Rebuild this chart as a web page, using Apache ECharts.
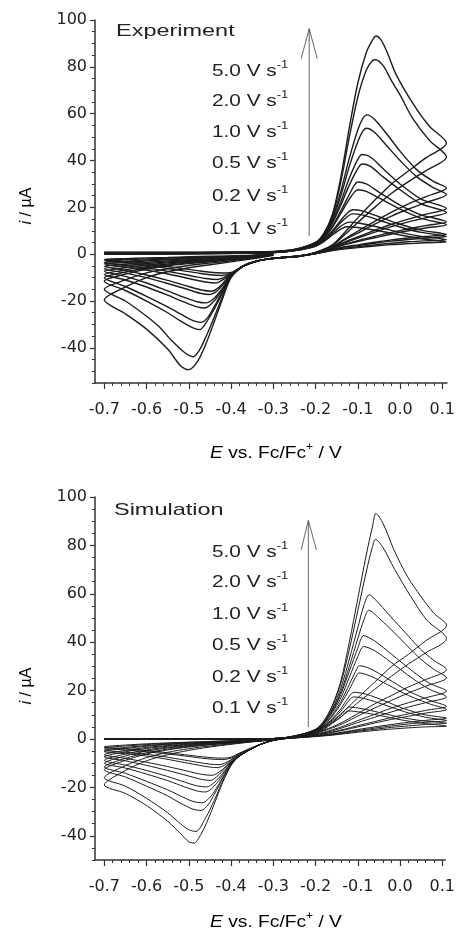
<!DOCTYPE html>
<html>
<head>
<meta charset="utf-8">
<script src="https://cdn.jsdelivr.net/npm/echarts@6/dist/echarts.min.js"></script>
<style>html,body{margin:0;padding:0;background:#fff}#c{width:458px;height:928px}</style>
</head>
<body>
<div id="c"></div>
<script>
// ---------- tick values ----------
const xMajor = [-0.7,-0.6,-0.5,-0.4,-0.3,-0.2,-0.1,0,0.1];
const xMinor = [-0.68,-0.66,-0.64,-0.62,-0.58,-0.56,-0.54,-0.52,-0.48,-0.46,-0.44,-0.42,-0.38,-0.36,-0.34,-0.32,-0.28,-0.26,-0.24,-0.22,-0.18,-0.16,-0.14,-0.12,-0.08,-0.06,-0.04,-0.02,0.02,0.04,0.06,0.08];
const yMajor = [-40,-20,0,20,40,60,80,100];
const yMinorTop = [-55,-50,-45,-35,-30,-25,-15,-10,-5,5,10,15,25,30,35,45,50,55,65,70,75,85,90,95];
const yMinorBot = [-50,-45,-35,-30,-25,-15,-10,-5,5,10,15,25,30,35,45,50,55,65,70,75,85,90,95];
const scanRates = ['5.0 V s','2.0 V s','1.0 V s','0.5 V s','0.2 V s','0.1 V s'];

// ---------- Experiment curves (E / V, i / uA) ----------
const expC1 = [[-0.70,0.8],[-0.55,0.8],[-0.40,0.9],[-0.30,1.2],[-0.25,2],[-0.20,5],[-0.18,9],[-0.16,17],[-0.14,33],[-0.12,54],[-0.10,73],[-0.08,86],[-0.065,91.5],[-0.057,93.2],[-0.045,91.5],[-0.03,86],[-0.01,77],[0.03,64.5],[0.07,54.5],[0.11,47.5],[0.06,41],[0.02,35.5],[-0.02,30],[-0.06,23],[-0.10,15.5],[-0.13,9.5],[-0.16,4],[-0.20,0.8],[-0.24,-1],[-0.28,-1.5],[-0.31,-2],[-0.34,-3],[-0.37,-5],[-0.40,-10],[-0.42,-19],[-0.44,-29],[-0.46,-38.5],[-0.48,-46],[-0.50,-49.3],[-0.52,-47.5],[-0.55,-40.5],[-0.60,-32],[-0.65,-25.5],[-0.70,-19.5],[-0.65,-14],[-0.60,-10],[-0.55,-7.5],[-0.50,-5.8],[-0.45,-4.5],[-0.40,-3.3],[-0.35,-2],[-0.30,-0.5]];
const expC2 = [[-0.70,0.7],[-0.55,0.7],[-0.40,0.8],[-0.30,1.1],[-0.25,2],[-0.20,5],[-0.18,8.8],[-0.16,16.5],[-0.14,31],[-0.12,50],[-0.10,67],[-0.08,78.5],[-0.066,82.5],[-0.058,83],[-0.04,80.5],[-0.02,74],[0.0,68],[0.03,58],[0.07,48.5],[0.11,41.5],[0.06,35.5],[0.02,31],[-0.02,26],[-0.06,20],[-0.10,13.5],[-0.13,8.5],[-0.16,3.8],[-0.20,0.7],[-0.24,-1],[-0.28,-1.5],[-0.31,-2],[-0.34,-3],[-0.37,-5],[-0.40,-9.8],[-0.42,-18],[-0.44,-27],[-0.46,-35.5],[-0.475,-41],[-0.49,-43.8],[-0.51,-42],[-0.54,-37],[-0.57,-31],[-0.60,-26.5],[-0.65,-20],[-0.70,-15],[-0.65,-11],[-0.60,-8],[-0.55,-6.2],[-0.50,-4.8],[-0.45,-3.8],[-0.40,-2.8],[-0.35,-1.7],[-0.30,-0.4]];
const expC3 = [[-0.70,0.6],[-0.55,0.6],[-0.40,0.8],[-0.30,1.1],[-0.25,1.9],[-0.20,4.8],[-0.18,8.5],[-0.16,15.5],[-0.14,27],[-0.12,41],[-0.10,53],[-0.088,58],[-0.078,59.5],[-0.06,57.5],[-0.03,51],[0.0,44],[0.04,36],[0.08,31],[0.11,28.3],[0.06,24.5],[0.02,21.5],[-0.02,18],[-0.06,14],[-0.10,9.8],[-0.13,6.6],[-0.16,3.3],[-0.20,0.6],[-0.24,-0.9],[-0.28,-1.5],[-0.31,-2],[-0.34,-3],[-0.37,-5],[-0.40,-9.5],[-0.42,-16.5],[-0.44,-23.5],[-0.46,-29.5],[-0.474,-32.2],[-0.49,-31.5],[-0.52,-28.5],[-0.55,-25],[-0.60,-20],[-0.65,-15.5],[-0.70,-11.5],[-0.65,-8.5],[-0.60,-6.5],[-0.55,-5],[-0.50,-4],[-0.45,-3.2],[-0.40,-2.4],[-0.35,-1.5],[-0.30,-0.3]];
const expC4 = [[-0.70,0.5],[-0.55,0.6],[-0.40,0.7],[-0.30,1.0],[-0.25,1.9],[-0.20,4.7],[-0.18,8.2],[-0.16,15],[-0.14,25],[-0.12,37.5],[-0.10,48],[-0.088,52.5],[-0.08,53.8],[-0.06,52],[-0.03,46],[0.0,40],[0.04,33],[0.08,28.3],[0.11,25.5],[0.06,22],[0.02,19.3],[-0.02,16.3],[-0.06,12.8],[-0.10,9],[-0.13,6.2],[-0.16,3.2],[-0.20,0.6],[-0.24,-0.9],[-0.28,-1.5],[-0.31,-2],[-0.34,-3],[-0.37,-5],[-0.40,-9.4],[-0.42,-16],[-0.44,-22.5],[-0.455,-27],[-0.47,-29.1],[-0.49,-28.4],[-0.52,-25.5],[-0.55,-22.5],[-0.60,-18],[-0.65,-13.8],[-0.70,-10.1],[-0.65,-7.6],[-0.60,-5.9],[-0.55,-4.6],[-0.50,-3.7],[-0.45,-3],[-0.40,-2.2],[-0.35,-1.4],[-0.30,-0.3]];
const expC5 = [[-0.70,0.5],[-0.55,0.5],[-0.40,0.7],[-0.30,1.0],[-0.25,1.8],[-0.20,4.5],[-0.18,7.8],[-0.16,14],[-0.14,22.5],[-0.12,32.5],[-0.10,40.5],[-0.09,42.6],[-0.07,41.5],[-0.04,36.5],[0.0,30],[0.05,23.5],[0.11,19.5],[0.06,17],[0.02,15],[-0.02,12.8],[-0.06,10.2],[-0.10,7.4],[-0.13,5.3],[-0.16,2.9],[-0.20,0.5],[-0.24,-0.9],[-0.28,-1.5],[-0.31,-2],[-0.34,-3],[-0.37,-5],[-0.40,-9.2],[-0.42,-15],[-0.44,-20],[-0.462,-23],[-0.48,-22.5],[-0.51,-20.5],[-0.55,-17.5],[-0.60,-14],[-0.65,-11],[-0.70,-8.7],[-0.65,-6.7],[-0.60,-5.3],[-0.55,-4.2],[-0.50,-3.4],[-0.45,-2.7],[-0.40,-2],[-0.35,-1.3],[-0.30,-0.2]];
const expC6 = [[-0.70,0.4],[-0.55,0.5],[-0.40,0.6],[-0.30,0.9],[-0.25,1.8],[-0.20,4.4],[-0.18,7.6],[-0.16,13.2],[-0.14,21],[-0.12,29.5],[-0.10,36.5],[-0.09,38.5],[-0.07,37.5],[-0.04,33],[0.0,27.5],[0.05,21.5],[0.11,17.8],[0.06,15.5],[0.02,13.8],[-0.02,11.8],[-0.06,9.4],[-0.10,6.9],[-0.13,5],[-0.16,2.8],[-0.20,0.5],[-0.24,-0.9],[-0.28,-1.5],[-0.31,-2],[-0.34,-3],[-0.37,-5],[-0.40,-9],[-0.42,-14.5],[-0.44,-18.8],[-0.46,-20.8],[-0.48,-20.3],[-0.51,-18.5],[-0.55,-15.7],[-0.60,-12.3],[-0.65,-9.5],[-0.70,-7.3],[-0.65,-5.8],[-0.60,-4.6],[-0.55,-3.7],[-0.50,-3],[-0.45,-2.4],[-0.40,-1.8],[-0.35,-1.1],[-0.30,-0.2]];
const expC7 = [[-0.70,0.3],[-0.55,0.4],[-0.40,0.6],[-0.30,0.9],[-0.25,1.7],[-0.20,4.2],[-0.18,7.2],[-0.16,12],[-0.14,18.5],[-0.12,25.5],[-0.108,29.5],[-0.10,30.8],[-0.08,30],[-0.05,26.5],[0.0,21],[0.05,16.8],[0.11,13.8],[0.06,12.2],[0.02,10.8],[-0.02,9.3],[-0.06,7.6],[-0.10,5.8],[-0.13,4.3],[-0.16,2.5],[-0.20,0.4],[-0.24,-0.8],[-0.28,-1.4],[-0.31,-2],[-0.34,-3],[-0.37,-5],[-0.40,-8.8],[-0.42,-13.2],[-0.435,-16],[-0.45,-17.2],[-0.47,-16.8],[-0.50,-15.2],[-0.55,-12.5],[-0.60,-10],[-0.65,-8],[-0.70,-6.2],[-0.65,-5],[-0.60,-4],[-0.55,-3.3],[-0.50,-2.7],[-0.45,-2.1],[-0.40,-1.6],[-0.35,-1],[-0.30,-0.1]];
const expC8 = [[-0.70,0.3],[-0.55,0.3],[-0.40,0.5],[-0.30,0.8],[-0.25,1.7],[-0.20,4.1],[-0.18,7],[-0.16,11.5],[-0.14,17.5],[-0.12,23.5],[-0.108,26.5],[-0.10,27.5],[-0.08,26.8],[-0.05,24],[0.0,19.2],[0.05,15.3],[0.11,12.6],[0.06,11.2],[0.02,10],[-0.02,8.6],[-0.06,7],[-0.10,5.4],[-0.13,4.1],[-0.16,2.4],[-0.20,0.4],[-0.24,-0.8],[-0.28,-1.4],[-0.31,-2],[-0.34,-3],[-0.37,-5],[-0.40,-8.6],[-0.42,-12.6],[-0.435,-15],[-0.447,-15.8],[-0.47,-15.3],[-0.50,-13.8],[-0.55,-11.2],[-0.60,-8.9],[-0.65,-6.9],[-0.70,-5.2],[-0.65,-4.3],[-0.60,-3.5],[-0.55,-2.9],[-0.50,-2.4],[-0.45,-1.9],[-0.40,-1.4],[-0.35,-0.9],[-0.30,-0.1]];
const expC9 = [[-0.70,0.2],[-0.55,0.3],[-0.40,0.5],[-0.30,0.8],[-0.25,1.6],[-0.20,3.8],[-0.18,6.3],[-0.16,10],[-0.14,14.5],[-0.125,17.5],[-0.112,19],[-0.09,18.5],[-0.05,16],[0.0,12.8],[0.05,10.3],[0.11,8.4],[0.06,7.6],[0.02,6.9],[-0.02,6.1],[-0.06,5.1],[-0.10,4],[-0.13,3.2],[-0.16,2],[-0.20,0.3],[-0.24,-0.8],[-0.28,-1.4],[-0.31,-2],[-0.34,-3],[-0.37,-5],[-0.40,-8.4],[-0.42,-11],[-0.437,-12.3],[-0.46,-11.9],[-0.49,-10.8],[-0.53,-9.2],[-0.58,-7.4],[-0.64,-5.7],[-0.70,-4.2],[-0.65,-3.5],[-0.60,-2.9],[-0.55,-2.4],[-0.50,-2],[-0.45,-1.6],[-0.40,-1.2],[-0.35,-0.7],[-0.30,0]];
const expC10 = [[-0.70,0.2],[-0.55,0.2],[-0.40,0.4],[-0.30,0.7],[-0.25,1.6],[-0.20,3.7],[-0.18,6.1],[-0.16,9.6],[-0.14,13.5],[-0.125,16],[-0.113,17.2],[-0.09,16.8],[-0.05,14.6],[0.0,11.6],[0.05,9.3],[0.11,7.6],[0.06,6.9],[0.02,6.3],[-0.02,5.6],[-0.06,4.7],[-0.10,3.7],[-0.13,3],[-0.16,1.9],[-0.20,0.3],[-0.24,-0.8],[-0.28,-1.4],[-0.31,-2],[-0.34,-3],[-0.37,-5],[-0.40,-8.3],[-0.42,-10.2],[-0.433,-10.8],[-0.46,-10.4],[-0.49,-9.4],[-0.53,-8],[-0.58,-6.4],[-0.64,-4.9],[-0.70,-3.5],[-0.65,-3],[-0.60,-2.5],[-0.55,-2.1],[-0.50,-1.7],[-0.45,-1.4],[-0.40,-1],[-0.35,-0.6],[-0.30,0]];
const expC11 = [[-0.70,0.1],[-0.55,0.2],[-0.40,0.4],[-0.30,0.7],[-0.25,1.5],[-0.20,3.5],[-0.18,5.7],[-0.16,8.8],[-0.14,12],[-0.12,13.7],[-0.095,13.2],[-0.05,11.5],[0.0,9.3],[0.05,7.6],[0.11,6.2],[0.06,5.7],[0.02,5.3],[-0.02,4.7],[-0.06,4],[-0.10,3.2],[-0.13,2.6],[-0.16,1.7],[-0.20,0.3],[-0.24,-0.8],[-0.28,-1.4],[-0.31,-2],[-0.34,-3],[-0.37,-5],[-0.40,-8.2],[-0.423,-9.1],[-0.45,-8.8],[-0.48,-8],[-0.52,-6.9],[-0.57,-5.5],[-0.63,-4],[-0.70,-2.7],[-0.65,-2.3],[-0.60,-2],[-0.55,-1.7],[-0.50,-1.4],[-0.45,-1.1],[-0.40,-0.8],[-0.35,-0.5],[-0.30,0]];
const expC12 = [[-0.70,0.0],[-0.55,0.1],[-0.40,0.3],[-0.30,0.6],[-0.25,1.5],[-0.20,3.4],[-0.18,5.4],[-0.16,8.2],[-0.14,10.7],[-0.125,11.7],[-0.10,11.4],[-0.05,10],[0.0,8.2],[0.05,6.6],[0.11,5.2],[0.06,4.9],[0.02,4.5],[-0.02,4.1],[-0.06,3.5],[-0.10,2.8],[-0.13,2.3],[-0.16,1.5],[-0.20,0.2],[-0.24,-0.8],[-0.28,-1.4],[-0.31,-2],[-0.34,-3],[-0.37,-4.8],[-0.40,-7.8],[-0.42,-8],[-0.45,-7.7],[-0.48,-7],[-0.52,-6],[-0.57,-4.7],[-0.63,-3.4],[-0.70,-2.2],[-0.65,-1.9],[-0.60,-1.6],[-0.55,-1.4],[-0.50,-1.1],[-0.45,-0.9],[-0.40,-0.7],[-0.35,-0.4],[-0.30,0]];

// ---------- Simulation curves ----------
const simC1 = [[-0.70,0],[-0.55,0],[-0.40,0],[-0.30,0.2],[-0.25,1.2],[-0.20,4],[-0.18,7.5],[-0.16,14],[-0.14,24],[-0.12,40],[-0.10,58],[-0.08,76],[-0.065,88],[-0.057,93.2],[-0.04,89],[-0.014,78],[0.018,67],[0.049,59],[0.08,52],[0.11,47],[0.06,40.5],[0.02,35],[-0.02,30],[-0.06,23.5],[-0.10,17],[-0.13,12],[-0.16,7.5],[-0.20,3.5],[-0.24,1.7],[-0.28,0.3],[-0.31,-1],[-0.34,-3],[-0.38,-7],[-0.40,-11],[-0.42,-18],[-0.44,-27],[-0.46,-35.5],[-0.475,-40.5],[-0.487,-43],[-0.50,-42.5],[-0.52,-39],[-0.55,-34],[-0.60,-27.5],[-0.65,-22.5],[-0.70,-19],[-0.65,-13],[-0.60,-9],[-0.55,-6.5],[-0.50,-4.7],[-0.45,-3.3],[-0.40,-2.2],[-0.35,-1.2],[-0.30,-0.4]];
const simC2 = [[-0.70,0],[-0.55,0],[-0.40,0],[-0.30,0.2],[-0.25,1.2],[-0.20,4],[-0.18,7.4],[-0.16,13.5],[-0.14,23],[-0.12,37],[-0.10,53],[-0.08,69],[-0.066,79],[-0.058,82.5],[-0.04,79],[-0.014,70.5],[0.025,59],[0.064,49],[0.11,41.5],[0.06,35.5],[0.02,31],[-0.02,26],[-0.06,20.5],[-0.10,15],[-0.13,10.5],[-0.16,6.8],[-0.20,3.3],[-0.24,1.6],[-0.28,0.3],[-0.31,-1],[-0.34,-3],[-0.38,-7],[-0.40,-10.8],[-0.42,-17.5],[-0.44,-25.5],[-0.46,-32.5],[-0.483,-38.2],[-0.50,-37.5],[-0.52,-35],[-0.55,-30.5],[-0.60,-24.5],[-0.65,-19.5],[-0.70,-16],[-0.65,-11],[-0.60,-7.7],[-0.55,-5.5],[-0.50,-4],[-0.45,-2.9],[-0.40,-2],[-0.35,-1.1],[-0.30,-0.4]];
const simC3 = [[-0.70,0],[-0.55,0],[-0.40,0],[-0.30,0.2],[-0.25,1.1],[-0.20,3.8],[-0.18,7],[-0.16,12.5],[-0.14,21],[-0.12,33],[-0.10,46],[-0.085,55.5],[-0.073,59.6],[-0.05,56],[-0.014,49],[0.02,42.5],[0.049,37],[0.08,32.5],[0.11,28.7],[0.06,24.5],[0.02,21.5],[-0.02,18],[-0.06,14.5],[-0.10,10.5],[-0.13,7.5],[-0.16,5],[-0.20,2.6],[-0.24,1.3],[-0.28,0.2],[-0.31,-1],[-0.34,-3],[-0.38,-7],[-0.40,-10.5],[-0.42,-16.5],[-0.44,-23],[-0.455,-27.3],[-0.471,-29.5],[-0.49,-29],[-0.52,-26.5],[-0.55,-23.5],[-0.60,-19.5],[-0.65,-15.7],[-0.70,-12.7],[-0.65,-8.8],[-0.60,-6.2],[-0.55,-4.5],[-0.50,-3.3],[-0.45,-2.4],[-0.40,-1.7],[-0.35,-1],[-0.30,-0.3]];
const simC4 = [[-0.70,0],[-0.55,0],[-0.40,0],[-0.30,0.2],[-0.25,1.1],[-0.20,3.7],[-0.18,6.8],[-0.16,12],[-0.14,19.5],[-0.12,30],[-0.10,41.5],[-0.085,49.5],[-0.074,53.2],[-0.05,50],[-0.014,44],[0.02,38],[0.049,33],[0.08,28.8],[0.11,25.3],[0.06,21.8],[0.02,19],[-0.02,16],[-0.06,12.8],[-0.10,9.5],[-0.13,6.8],[-0.16,4.6],[-0.20,2.4],[-0.24,1.2],[-0.28,0.2],[-0.31,-1],[-0.34,-3],[-0.38,-7],[-0.40,-10.3],[-0.42,-16],[-0.44,-21.8],[-0.455,-25],[-0.469,-26.4],[-0.49,-25.8],[-0.52,-23.5],[-0.55,-21],[-0.60,-17.5],[-0.65,-14.2],[-0.70,-11.6],[-0.65,-8],[-0.60,-5.7],[-0.55,-4.2],[-0.50,-3.1],[-0.45,-2.3],[-0.40,-1.6],[-0.35,-0.9],[-0.30,-0.3]];
const simC5 = [[-0.70,0],[-0.55,0],[-0.40,0],[-0.30,0.2],[-0.25,1],[-0.20,3.5],[-0.18,6.5],[-0.16,11.5],[-0.14,18.5],[-0.12,28],[-0.10,37.5],[-0.086,42.7],[-0.06,40.5],[-0.02,35],[0.03,28],[0.07,23],[0.11,19.8],[0.06,17],[0.02,15],[-0.02,12.8],[-0.06,10.2],[-0.10,7.6],[-0.13,5.6],[-0.16,3.8],[-0.20,2],[-0.24,1],[-0.28,0.1],[-0.31,-1],[-0.34,-3],[-0.38,-7],[-0.40,-10],[-0.42,-15],[-0.44,-19.5],[-0.46,-21.9],[-0.48,-21.5],[-0.51,-19.8],[-0.55,-17.2],[-0.60,-14.5],[-0.65,-12],[-0.70,-10],[-0.65,-7],[-0.60,-5],[-0.55,-3.7],[-0.50,-2.8],[-0.45,-2.1],[-0.40,-1.5],[-0.35,-0.9],[-0.30,-0.3]];
const simC6 = [[-0.70,0],[-0.55,0],[-0.40,0],[-0.30,0.2],[-0.25,1],[-0.20,3.4],[-0.18,6.2],[-0.16,11],[-0.14,17],[-0.12,25.5],[-0.10,34],[-0.086,38.2],[-0.06,36.5],[-0.02,31.5],[0.03,25],[0.07,20.5],[0.11,17.4],[0.06,15],[0.02,13.2],[-0.02,11.2],[-0.06,9],[-0.10,6.8],[-0.13,5],[-0.16,3.4],[-0.20,1.8],[-0.24,0.9],[-0.28,0.1],[-0.31,-1],[-0.34,-3],[-0.38,-7],[-0.40,-9.8],[-0.42,-14.3],[-0.44,-18],[-0.458,-19.8],[-0.48,-19.4],[-0.51,-17.8],[-0.55,-15.5],[-0.60,-13],[-0.65,-10.8],[-0.70,-8.8],[-0.65,-6.2],[-0.60,-4.5],[-0.55,-3.4],[-0.50,-2.6],[-0.45,-1.9],[-0.40,-1.4],[-0.35,-0.8],[-0.30,-0.3]];
const simC7 = [[-0.70,0],[-0.55,0],[-0.40,0],[-0.30,0.2],[-0.25,0.9],[-0.20,3.2],[-0.18,5.8],[-0.16,10],[-0.14,15.5],[-0.12,22.5],[-0.105,28],[-0.096,30.3],[-0.07,29],[-0.03,25],[0.02,19.8],[0.07,16],[0.11,13.5],[0.06,11.8],[0.02,10.4],[-0.02,8.9],[-0.06,7.2],[-0.10,5.5],[-0.13,4.1],[-0.16,2.9],[-0.20,1.6],[-0.24,0.8],[-0.28,0.1],[-0.31,-1],[-0.34,-3],[-0.38,-7],[-0.40,-9.5],[-0.42,-13.2],[-0.435,-15.8],[-0.448,-17.1],[-0.47,-16.7],[-0.50,-15.3],[-0.55,-13],[-0.60,-10.9],[-0.65,-9],[-0.70,-7.4],[-0.65,-5.3],[-0.60,-3.9],[-0.55,-3],[-0.50,-2.3],[-0.45,-1.7],[-0.40,-1.2],[-0.35,-0.7],[-0.30,-0.2]];
const simC8 = [[-0.70,0],[-0.55,0],[-0.40,0],[-0.30,0.2],[-0.25,0.9],[-0.20,3.1],[-0.18,5.5],[-0.16,9.5],[-0.14,14.5],[-0.12,20.5],[-0.105,25.5],[-0.097,27.3],[-0.07,26],[-0.03,22.5],[0.02,18],[0.07,14.5],[0.11,12.2],[0.06,10.7],[0.02,9.4],[-0.02,8.1],[-0.06,6.6],[-0.10,5],[-0.13,3.8],[-0.16,2.7],[-0.20,1.5],[-0.24,0.7],[-0.28,0],[-0.31,-1],[-0.34,-3],[-0.38,-7],[-0.40,-9.3],[-0.42,-12.6],[-0.435,-14.4],[-0.444,-15],[-0.47,-14.6],[-0.50,-13.4],[-0.55,-11.4],[-0.60,-9.6],[-0.65,-8],[-0.70,-6.5],[-0.65,-4.7],[-0.60,-3.5],[-0.55,-2.7],[-0.50,-2.1],[-0.45,-1.6],[-0.40,-1.1],[-0.35,-0.7],[-0.30,-0.2]];
const simC9 = [[-0.70,0],[-0.55,0],[-0.40,0],[-0.30,0.2],[-0.25,0.8],[-0.20,2.8],[-0.18,5],[-0.16,8.5],[-0.14,12.5],[-0.125,16.5],[-0.109,19.3],[-0.08,18.5],[-0.04,16],[0.01,12.5],[0.06,10],[0.11,8.6],[0.06,7.7],[0.02,6.9],[-0.02,6],[-0.06,5],[-0.10,3.9],[-0.13,3],[-0.16,2.2],[-0.20,1.3],[-0.24,0.7],[-0.28,0],[-0.31,-1],[-0.34,-3],[-0.38,-6.5],[-0.40,-8.8],[-0.415,-10.8],[-0.432,-11.8],[-0.45,-11.6],[-0.48,-10.7],[-0.52,-9.4],[-0.57,-7.8],[-0.63,-6.4],[-0.70,-5.2],[-0.65,-3.9],[-0.60,-3],[-0.55,-2.3],[-0.50,-1.8],[-0.45,-1.4],[-0.40,-1],[-0.35,-0.6],[-0.30,-0.2]];
const simC10 = [[-0.70,0],[-0.55,0],[-0.40,0],[-0.30,0.2],[-0.25,0.8],[-0.20,2.7],[-0.18,4.8],[-0.16,8],[-0.14,11.5],[-0.125,15],[-0.11,17.4],[-0.08,16.5],[-0.04,14.3],[0.01,11.3],[0.06,9],[0.11,7.6],[0.06,6.9],[0.02,6.2],[-0.02,5.4],[-0.06,4.5],[-0.10,3.5],[-0.13,2.8],[-0.16,2],[-0.20,1.2],[-0.24,0.6],[-0.28,0],[-0.31,-1],[-0.34,-3],[-0.38,-6.3],[-0.40,-8.6],[-0.415,-10],[-0.428,-10.6],[-0.45,-10.4],[-0.48,-9.6],[-0.52,-8.4],[-0.57,-7],[-0.63,-5.8],[-0.70,-4.6],[-0.65,-3.5],[-0.60,-2.7],[-0.55,-2.1],[-0.50,-1.7],[-0.45,-1.3],[-0.40,-0.9],[-0.35,-0.6],[-0.30,-0.2]];
const simC11 = [[-0.70,0],[-0.55,0],[-0.40,0],[-0.30,0.2],[-0.25,0.7],[-0.20,2.5],[-0.18,4.3],[-0.16,7],[-0.14,10],[-0.119,13.2],[-0.09,12.5],[-0.05,11],[0.0,9],[0.05,7.6],[0.11,6.5],[0.06,6],[0.02,5.4],[-0.02,4.8],[-0.06,4],[-0.10,3.2],[-0.13,2.5],[-0.16,1.8],[-0.20,1.1],[-0.24,0.6],[-0.28,0],[-0.31,-1],[-0.34,-2.9],[-0.38,-6],[-0.40,-7.9],[-0.42,-8.5],[-0.44,-8.4],[-0.47,-7.9],[-0.51,-7],[-0.56,-6],[-0.63,-4.8],[-0.70,-3.7],[-0.65,-2.9],[-0.60,-2.3],[-0.55,-1.8],[-0.50,-1.4],[-0.45,-1.1],[-0.40,-0.8],[-0.35,-0.5],[-0.30,-0.2]];
const simC12 = [[-0.70,0],[-0.55,0],[-0.40,0],[-0.30,0.2],[-0.25,0.7],[-0.20,2.4],[-0.18,4],[-0.16,6.5],[-0.14,9],[-0.123,11.6],[-0.09,11],[-0.05,9.8],[0.0,8],[0.05,6.6],[0.11,5.3],[0.06,5],[0.02,4.6],[-0.02,4.1],[-0.06,3.5],[-0.10,2.8],[-0.13,2.2],[-0.16,1.6],[-0.20,1],[-0.24,0.5],[-0.28,0],[-0.31,-1],[-0.34,-2.8],[-0.38,-5.8],[-0.40,-7.5],[-0.417,-7.9],[-0.44,-7.8],[-0.47,-7.3],[-0.51,-6.5],[-0.56,-5.5],[-0.63,-4.3],[-0.70,-3.2],[-0.65,-2.5],[-0.60,-2],[-0.55,-1.6],[-0.50,-1.3],[-0.45,-1],[-0.40,-0.7],[-0.35,-0.5],[-0.30,-0.2]];

// ---------- arrows (data coordinates) ----------
const arrowExp = [[-0.215,7.7],[-0.215,96.3]];
const arrowHeadExp = [[-0.234,83.5],[-0.215,96.3],[-0.196,83.5]];
const arrowSim = [[-0.217,5],[-0.217,90.3]];
const arrowHeadSim = [[-0.234,78.2],[-0.217,90.3],[-0.198,78.2]];

const expCurves = [expC1,expC2,expC3,expC4,expC5,expC6,expC7,expC8,expC9,expC10,expC11,expC12];
const simCurves = [simC1,simC2,simC3,simC4,simC5,simC6,simC7,simC8,simC9,simC10,simC11,simC12];

// ---------- layout ----------
const FONT = '"Liberation Sans", Arial, sans-serif';
const LABEL_FONT = '"DejaVu Sans", sans-serif';
const AX = '#333';
const panels = [
  {top: 20, yMin: -55, yMinor: yMinorTop, xMax: 0.111},
  {top: 497, yMin: -50, yMinor: yMinorBot, xMax: 0.107}
];

const grid = [], xAxis = [], yAxis = [];
panels.forEach((p, i) => {
  grid.push({left: 95, top: p.top, width: 353, height: 363});
  xAxis.push({
    type: 'value', gridIndex: i, min: -0.722, max: p.xMax, position: 'bottom', offset: 0,
    axisLine: {show: true, onZero: false, lineStyle: {color: AX, width: 1.5}},
    axisTick: {show: true, inside: false, length: 6, customValues: xMajor, lineStyle: {color: AX, width: 1.2}},
    axisLabel: {show: true, customValues: xMajor, margin: 19, color: '#222', fontSize: 16, fontFamily: LABEL_FONT,
      formatter: v => v.toFixed(1)},
    splitLine: {show: false}
  });
  xAxis.push({
    type: 'value', gridIndex: i, min: -0.722, max: p.xMax, position: 'bottom', offset: 0,
    axisLine: {show: false, onZero: false}, axisLabel: {show: false}, splitLine: {show: false},
    axisTick: {show: true, length: 3, customValues: xMinor, lineStyle: {color: AX, width: 1}}
  });
  yAxis.push({
    type: 'value', gridIndex: i, min: p.yMin, max: 100, position: 'left', offset: 0,
    axisLine: {show: true, onZero: false, lineStyle: {color: AX, width: 1.5}},
    axisTick: {show: true, length: 5, customValues: yMajor, lineStyle: {color: AX, width: 1.2}},
    axisLabel: {show: true, customValues: yMajor, margin: 8, color: '#222', fontSize: 16, fontFamily: LABEL_FONT},
    splitLine: {show: false}
  });
  yAxis.push({
    type: 'value', gridIndex: i, min: p.yMin, max: 100, position: 'left', offset: 0,
    axisLine: {show: false, onZero: false}, axisLabel: {show: false}, splitLine: {show: false},
    axisTick: {show: true, length: 3, customValues: p.yMinor, lineStyle: {color: AX, width: 1}}
  });
});

const series = [];
function addCurves(curves, gi, color, width) {
  curves.forEach(d => series.push({
    type: 'line', xAxisIndex: gi * 2, yAxisIndex: gi * 2, data: d,
    showSymbol: false, smooth: 0.3, silent: true,
    lineStyle: {color: color, width: width}
  }));
}
addCurves(expCurves, 0, '#1c1c1c', 1.4);
addCurves(simCurves, 1, '#1c1c1c', 1.0);
[[arrowExp, 0], [arrowHeadExp, 0], [arrowSim, 1], [arrowHeadSim, 1]].forEach(([d, gi]) => series.push({
  type: 'line', xAxisIndex: gi * 2, yAxisIndex: gi * 2, data: d, showSymbol: false, silent: true,
  lineStyle: {color: '#555', width: 0.9}
}));

// ---------- texts ----------
const labelYTop = [70, 100, 131, 162, 195, 228];
const labelYBot = [551, 581, 613, 644, 676, 707];
const graphic = [];
function txt(x, y, text, rich, opts) {
  graphic.push(Object.assign({type: 'text', x: x, y: y, silent: true,
    style: {text: text, rich: rich, fill: '#222', align: 'left', verticalAlign: 'middle'}}, opts || {}));
}
const richLbl = {
  n: {fontSize: 16, fontFamily: FONT, color: '#222', lineHeight: 20, verticalAlign: 'bottom'},
  s: {fontSize: 10, fontFamily: FONT, color: '#222', lineHeight: 20, verticalAlign: 'top'}
};
scanRates.forEach((t, k) => {
  txt(212, labelYTop[k], '{n|' + t + '}{s|-1}', richLbl, {scaleX: 1.3});
  txt(212, labelYBot[k], '{n|' + t + '}{s|-1}', richLbl, {scaleX: 1.3});
});
const richTitle = {n: {fontSize: 17, fontFamily: FONT, color: '#222'}};
txt(116, 31, '{n|Experiment}', richTitle, {scaleX: 1.38});
txt(114, 510, '{n|Simulation}', richTitle, {scaleX: 1.38});

const richAxis = {
  i: {fontSize: 16, fontFamily: FONT, fontStyle: 'italic', color: '#222', lineHeight: 20, verticalAlign: 'bottom'},
  n: {fontSize: 16, fontFamily: FONT, color: '#222', lineHeight: 20, verticalAlign: 'bottom'},
  s: {fontSize: 10, fontFamily: FONT, color: '#222', lineHeight: 20, verticalAlign: 'top'}
};
[[452, 206], [921, 686]].forEach(([yx, yy]) => {
  graphic.push({type: 'text', x: 276, y: yx, scaleX: 1.2, silent: true,
    style: {text: '{i|E}{n| vs. Fc/Fc}{s|+}{n| / V}', rich: richAxis, align: 'center', verticalAlign: 'middle'}});
  graphic.push({type: 'text', x: 25, y: yy, rotation: Math.PI / 2, silent: true,
    style: {text: '{i|i}{n| / \u00B5A}', rich: richAxis, align: 'center', verticalAlign: 'middle'}});
});

const chart = echarts.init(document.getElementById('c'), null, {renderer: 'canvas'});
chart.setOption({
  animation: false,
  backgroundColor: '#fff',
  grid: grid, xAxis: xAxis, yAxis: yAxis, series: series, graphic: graphic
});
</script>
</body>
</html>
